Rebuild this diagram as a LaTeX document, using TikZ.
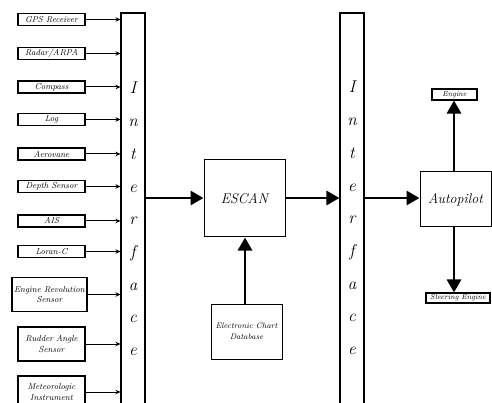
\documentclass[tikz,border=0pt]{standalone}
\usetikzlibrary{arrows.meta}
\begin{document}
\begin{tikzpicture}[x=1pt,y=-1pt,
  sensor/.style={draw,line width=1.1pt,minimum width=67pt,minimum height=12pt,inner sep=0pt,font=\fontsize{8.6}{10.5}\selectfont\itshape,align=center},
  sensorbig/.style={sensor,minimum height=34pt},
  ibar/.style={draw,line width=1.1pt,minimum width=24pt,minimum height=400pt,inner sep=0pt},
  iletters/.style={align=center,font=\fontsize{17}{32.7}\selectfont\itshape,inner sep=0pt},
  mainbox/.style={draw,line width=1pt,inner sep=0pt},
  outbox/.style={draw,line width=1.1pt,inner sep=0pt,minimum height=11pt,font=\fontsize{7.5}{8}\selectfont\itshape},
  thin/.style={line width=1pt,-{Stealth[length=5pt,width=4.5pt]}},
  thick/.style={line width=2.8pt,-{Triangle[length=13pt,width=14pt]}}
]
\useasboundingbox (0,0) rectangle (492,403);
\clip (0,0) rectangle (492,403);
% interfaces
\node[ibar] (if1) at (133,213) {};
\node[iletters] (if1t) at (133,219) {I\\n\\t\\e\\r\\f\\a\\c\\e};
\node[ibar] (if2) at (352,213) {};
\node[iletters] (if2t) at (352,218) {I\\n\\t\\e\\r\\f\\a\\c\\e};
% sensors
\node[sensor] (gps) at (51.5,19.5) {GPS Receiver};
\node[sensor] (radar) at (51.5,53.5) {Radar/ARPA};
\node[sensor] (compass) at (51.5,87) {Compass};
\node[sensor] (log) at (51.5,119.5) {Log};
\node[sensor] (aero) at (51.5,154) {Aerovane};
\node[sensor] (depth) at (51.5,186.5) {Depth Sensor};
\node[sensor] (ais) at (51.5,221) {AIS};
\node[sensor] (loran) at (51.5,251.5) {Loran-C};
\node[sensorbig,minimum width=75pt] (engrev) at (49.5,294.5) {Engine Revolution\\Sensor};
\node[sensorbig] (rudder) at (51.5,344) {Rudder Angle\\Sensor};
\node[sensor,minimum height=32pt] (meteo) at (51.5,392) {Meteorologic\\Instrument};
\foreach \n in {gps,radar,compass,log,aero,depth,ais,loran,engrev,rudder,meteo}
  \draw[thin] (\n.east) -- (\n.east -| if1.west);
% main
\node[mainbox,minimum width=81pt,minimum height=77pt,font=\fontsize{14}{16}\selectfont\itshape] (escan) at (244.5,198.5) {ESCAN};
\node[mainbox,minimum width=71pt,minimum height=55pt,align=center,font=\fontsize{8}{11}\selectfont\itshape] (ecd) at (246.5,331.5) {Electronic Chart\\Database};
\node[mainbox,minimum width=71pt,minimum height=55pt,font=\fontsize{14}{16}\selectfont\itshape] (auto) at (455.5,199.5) {Autopilot};
\node[outbox,minimum width=45pt] (engine) at (454.5,94.5) {Engine};
\node[outbox,minimum width=64pt,minimum height=10pt] (steer) at (458,298) {Steering Engine};
\draw[thick] (if1.east |- 0,198) -- (escan.west |- 0,198);
\draw[thick] (escan.east |- 0,198) -- (if2.west |- 0,198);
\draw[thick] (if2.east |- 0,198) -- (auto.west |- 0,198);
\draw[thick] (ecd.north -| 245,0) -- (escan.south -| 245,0);
\draw[thick] (auto.north -| 454,0) -- (engine.south -| 454,0);
\draw[thick] (auto.south -| 454,0) -- (steer.north -| 454,0);
\end{tikzpicture}
\end{document}
